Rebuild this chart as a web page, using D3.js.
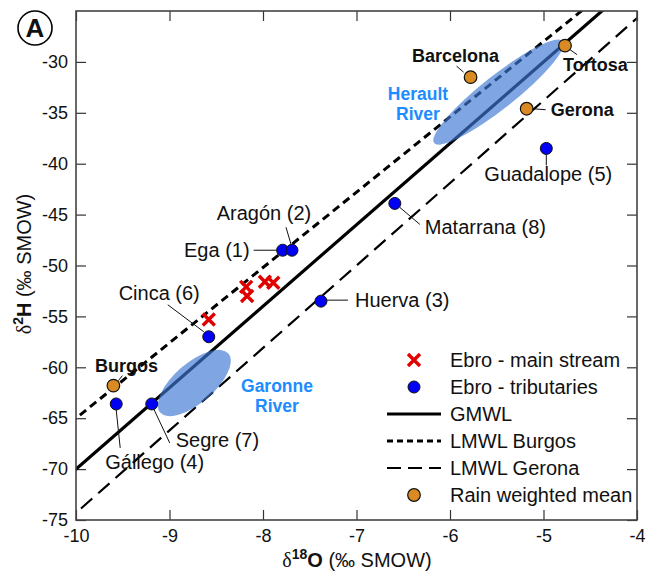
<!DOCTYPE html>
<html>
<head>
<meta charset="utf-8">
<title>δ18O vs δ2H</title>
<script src="https://d3js.org/d3.v7.min.js"></script>
<style>
  body { margin: 0; background: #fff; }
  svg text { font-family: "Liberation Sans", Arial, Helvetica, sans-serif; fill: #111; }
  .tick line { stroke: #333; stroke-width: 1.2; }
  .tick text { font-size: 18px; fill: #111; }
  .lbl { font-size: 20px; }
  .city { font-size: 18px; font-weight: bold; }
  .river { font-size: 17.5px; font-weight: bold; fill: #1c8cff; }
  .leader { stroke: #111; stroke-width: 1; }
</style>
</head>
<body>
<svg id="chart" width="648" height="574"></svg>
<script>
// --- data ---
// Ebro main stream (red crosses)
var stream18O = [-8.58, -8.18, -8.17, -7.98, -7.89];
var stream2H  = [-55.3, -52.1, -53.0, -51.6, -51.7];

// Ebro tributaries (blue dots)
var tribNames = ["Ega (1)", "Aragón (2)", "Huerva (3)", "Gállego (4)", "Guadalope (5)", "Cinca (6)", "Segre (7)", "Matarrana (8)"];
var trib18O   = [-7.79, -7.69, -7.38, -9.57, -4.97, -8.58, -9.19, -6.59];
var trib2H    = [-48.5, -48.5, -53.5, -63.6, -38.5, -57.0, -63.6, -43.9];

// rain weighted means (orange dots)
var rainNames = ["Burgos", "Barcelona", "Tortosa", "Gerona"];
var rain18O   = [-9.60, -5.78, -4.77, -5.18];
var rain2H    = [-61.8, -31.5, -28.4, -34.6];

// meteoric water lines  δ2H = slope * δ18O + intercept
var lineNames      = ["GMWL", "LMWL Burgos", "LMWL Gerona"];
var lineSlope      = [8, 7.4, 8.1];
var lineIntercept  = [10, 9, 6.7];

// river fields (major axis end points)
var riverNames  = ["Herault River", "Garonne River"];
var riverFrom18O = [-6.17, -9.10];
var riverFrom2H  = [-37.97, -64.44];
var riverTo18O   = [-4.79, -8.37];
var riverTo2H    = [-27.95, -58.64];

var xTicks = [-10, -9, -8, -7, -6, -5, -4];
var yTicks = [-75, -70, -65, -60, -55, -50, -45, -40, -35, -30];

// --- layout ---
var margin = {top: 11, left: 76},
    larg = 561, alt = 509;

var svg = d3.select("#chart");
var g = svg.append("g").attr("transform", "translate(" + margin.left + "," + margin.top + ")");

var x = d3.scaleLinear().domain([-10, -4]).range([0, larg]);
var y = d3.scaleLinear().domain([-75, -25]).range([alt, 0]);

svg.append("defs").append("clipPath").attr("id", "plotclip")
  .append("rect").attr("width", larg).attr("height", alt);

// axes: ticks pointing inward on all four sides, plain hyphen for minus
var fmt = function(d) { return String(d); };
g.append("g").attr("class", "axb").attr("transform", "translate(0," + alt + ")")
  .call(d3.axisBottom(x).tickValues(xTicks).tickSize(-10).tickPadding(9).tickFormat(fmt));
g.append("g").attr("class", "axl")
  .call(d3.axisLeft(y).tickValues(yTicks).tickSize(-10).tickPadding(8).tickFormat(fmt));
g.append("g")
  .call(d3.axisTop(x).tickValues(xTicks).tickSize(-10).tickFormat(""));
g.append("g").attr("transform", "translate(" + larg + ",0)")
  .call(d3.axisRight(y).tickValues(yTicks).tickSize(-10).tickFormat(""));
g.selectAll(".domain").remove();

// water lines
var lineStyles = [
  {w: 3.2, dash: null},
  {w: 3.0, dash: "8,5"},
  {w: 2.2, dash: "15,8"}
];
var plot = g.append("g").attr("clip-path", "url(#plotclip)");
lineNames.forEach(function(n, i) {
  var x0 = -10.5, x1 = -3.5;
  plot.append("line")
    .attr("x1", x(x0)).attr("y1", y(lineSlope[i] * x0 + lineIntercept[i]))
    .attr("x2", x(x1)).attr("y2", y(lineSlope[i] * x1 + lineIntercept[i]))
    .attr("stroke", "#000")
    .attr("stroke-width", lineStyles[i].w)
    .attr("stroke-dasharray", lineStyles[i].dash);
});

// river ellipses
var riverHalfWidth = [16.5, 20];
riverNames.forEach(function(n, i) {
  var ax = x(riverFrom18O[i]), ay = y(riverFrom2H[i]),
      bx = x(riverTo18O[i]), by = y(riverTo2H[i]);
  var cx = (ax + bx) / 2, cy = (ay + by) / 2;
  var len = Math.hypot(bx - ax, by - ay) / 2;
  var ang = Math.atan2(by - ay, bx - ax) * 180 / Math.PI;
  plot.append("ellipse")
    .attr("transform", "translate(" + cx + "," + cy + ") rotate(" + ang + ")")
    .attr("rx", len).attr("ry", riverHalfWidth[i])
    .attr("fill", "rgb(60,120,212)").attr("fill-opacity", 0.66);
});

// label placement (pixel offsets from the point): text anchor, dx, dy, leader x1,y1,x2,y2
var tribLabel = [
  ["end",   -33,   7, -29,  0,  -6,  0],
  ["middle",-28, -30,  -6,-23,  -1, -6],
  ["start",  34,   6,   6, -1,  27, -1],
  ["start", -11,  65,   0,  6,   4, 44],
  ["middle",  2,  33,   0,  6,   0, 17],
  ["end",    -9, -37, -41,-32,  -5, -5],
  ["start",  24,  43,   2,  5,  18, 39],
  ["start",  30,  31,   5,  4,  25, 21]
];
var rainLabel = [
  ["middle", 13, -14,  5, -5,   9, -10],
  ["middle",-15, -15,-14,-11,  -7,  -5],
  ["start",  -2,  25,  5,  4,  12,   9],
  ["start",  24,   7,  6,  0,  19,   1]
];

tribNames.forEach(function(n, i) {
  var px = x(trib18O[i]), py = y(trib2H[i]), L = tribLabel[i];
  g.append("line").attr("class", "leader")
    .attr("x1", px + L[3]).attr("y1", py + L[4]).attr("x2", px + L[5]).attr("y2", py + L[6]);
  g.append("text").attr("class", "lbl").attr("text-anchor", L[0])
    .attr("x", px + L[1]).attr("y", py + L[2]).text(n);
});
rainNames.forEach(function(n, i) {
  var px = x(rain18O[i]), py = y(rain2H[i]), L = rainLabel[i];
  g.append("line").attr("class", "leader")
    .attr("x1", px + L[3]).attr("y1", py + L[4]).attr("x2", px + L[5]).attr("y2", py + L[6]);
  g.append("text").attr("class", "city").attr("text-anchor", L[0])
    .attr("x", px + L[1]).attr("y", py + L[2]).text(n);
});

// river labels
var riverLabelPos = [[342, 89], [201, 381]];
riverNames.forEach(function(n, i) {
  n.split(" ").forEach(function(w, k) {
    g.append("text").attr("class", "river").attr("text-anchor", "middle")
      .attr("x", riverLabelPos[i][0]).attr("y", riverLabelPos[i][1] + k * 20).text(w);
  });
});

// symbols
function cross(sel, cx, cy, s) {
  sel.append("path")
    .attr("d", "M" + (cx - s) + "," + (cy - s) + "L" + (cx + s) + "," + (cy + s) +
               "M" + (cx - s) + "," + (cy + s) + "L" + (cx + s) + "," + (cy - s))
    .attr("stroke", "#e00000").attr("stroke-width", 3.4).attr("fill", "none");
}
stream18O.forEach(function(v, i) { cross(g, x(v), y(stream2H[i]), 6); });

g.selectAll("circle.trib").data(trib18O).enter().append("circle")
  .attr("class", "trib")
  .attr("cx", function(d) { return x(d); })
  .attr("cy", function(d, i) { return y(trib2H[i]); })
  .attr("r", 6).attr("fill", "#0000f5").attr("stroke", "#111").attr("stroke-width", 1);

g.selectAll("circle.rain").data(rain18O).enter().append("circle")
  .attr("class", "rain")
  .attr("cx", function(d) { return x(d); })
  .attr("cy", function(d, i) { return y(rain2H[i]); })
  .attr("r", 6.3).attr("fill", "#da8a22").attr("stroke", "#111").attr("stroke-width", 1.2);

// frame
g.append("rect").attr("width", larg).attr("height", alt)
  .attr("fill", "none").attr("stroke", "#444").attr("stroke-width", 1.6);

// legend
var legendNames = ["Ebro - main stream", "Ebro - tributaries"].concat(lineNames).concat(["Rain weighted mean"]);
var leg = svg.append("g").attr("transform", "translate(414,360)");
legendNames.forEach(function(n, i) {
  var ly = i * 27;
  if (i === 0) cross(leg, 0, ly, 6);
  else if (i === 1) leg.append("circle").attr("cy", ly).attr("r", 6).attr("fill", "#0000f5").attr("stroke", "#111");
  else if (i === 5) leg.append("circle").attr("cy", ly).attr("r", 6.3).attr("fill", "#da8a22").attr("stroke", "#111").attr("stroke-width", 1.2);
  else {
    var st = lineStyles[i - 2];
    leg.append("line").attr("x1", -27).attr("x2", 27).attr("y1", ly).attr("y2", ly)
      .attr("stroke", "#000").attr("stroke-width", st.w)
      .attr("stroke-dasharray", i === 3 ? "6,4" : (i === 4 ? "14,7" : null));
  }
  leg.append("text").attr("class", "lbl").attr("x", 36).attr("y", ly + 7).text(n);
});

// axis titles
var xt = svg.append("text").attr("x", 357).attr("y", 567).attr("text-anchor", "middle").style("font-size", "20px");
xt.append("tspan").style("font-family", "'Liberation Serif', 'DejaVu Serif', serif").text("δ");
xt.append("tspan").attr("dy", -8).style("font-weight", "bold").style("font-size", "14px").text("18");
xt.append("tspan").attr("dy", 8).style("font-weight", "bold").text("O");
xt.append("tspan").text(" (‰ SMOW)");

var yt = svg.append("text").attr("transform", "translate(31,264) rotate(-90)")
  .attr("text-anchor", "middle").style("font-size", "20px");
yt.append("tspan").style("font-family", "'Liberation Serif', 'DejaVu Serif', serif").text("δ");
yt.append("tspan").attr("dy", -8).style("font-weight", "bold").style("font-size", "14px").text("2");
yt.append("tspan").attr("dy", 8).style("font-weight", "bold").text("H");
yt.append("tspan").text(" (‰ SMOW)");

// panel letter
svg.append("circle").attr("cx", 35).attr("cy", 28).attr("r", 17)
  .attr("fill", "#fff").attr("stroke", "#000").attr("stroke-width", 1.6);
svg.append("text").attr("x", 35).attr("y", 37).attr("text-anchor", "middle")
  .style("font-size", "26px").style("font-weight", "bold").text("A");
</script>
</body>
</html>
